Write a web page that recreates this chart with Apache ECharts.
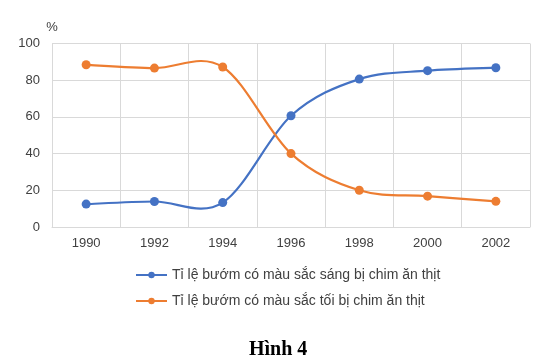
<!DOCTYPE html>
<html><head><meta charset="utf-8">
<script src="https://cdn.jsdelivr.net/npm/echarts@6/dist/echarts.min.js"></script>
<style>html,body{margin:0;padding:0;background:#fff}#c{width:543px;height:363px}</style>
</head><body><div id="c"></div>
<script>
const categories = ['1990','1992','1994','1996','1998','2000','2002'];
const lightSeries = [12.5, 13.9, 13.3, 60.6, 80.6, 85.2, 86.8];
const darkSeries = [88.4, 86.6, 87.2, 40.0, 20.0, 16.8, 14.0];
const yTicks = [0, 20, 40, 60, 80, 100];
const seriesNames = ['Tỉ lệ bướm có màu sắc sáng bị chim ăn thịt', 'Tỉ lệ bướm có màu sắc tối bị chim ăn thịt'];
const colors = ['#4472c4', '#ed7d31'];

const chart = echarts.init(document.getElementById('c'), null, {renderer: 'canvas'});
const font = 'Liberation Sans, Arial, sans-serif';

function curveSeries(values, color) {
  return {
    type: 'custom', silent: true, z: 1,
    data: values.map((v, i) => [i, v]),
    encode: {x: 0, y: 1},
    renderItem: function (params, api) {
      if (params.dataIndex !== 0) return null;
      const pts = values.map((v, i) => api.coord([i, v]));
      let d = 'M' + pts[0][0] + ' ' + pts[0][1];
      for (let i = 0; i < pts.length - 1; i++) {
        const p0 = pts[Math.max(i - 1, 0)], p1 = pts[i], p2 = pts[i + 1], p3 = pts[Math.min(i + 2, pts.length - 1)];
        const c1 = [p1[0] + (p2[0] - p0[0]) / 6, p1[1] + (p2[1] - p0[1]) / 6];
        const c2 = [p2[0] - (p3[0] - p1[0]) / 6, p2[1] - (p3[1] - p1[1]) / 6];
        d += ' C' + c1[0] + ' ' + c1[1] + ' ' + c2[0] + ' ' + c2[1] + ' ' + p2[0] + ' ' + p2[1];
      }
      return {type: 'path', shape: {pathData: d}, style: {stroke: color, fill: 'none', lineWidth: 2.2}};
    }
  };
}

chart.setOption({
  animation: false,
  textStyle: {fontFamily: font},
  grid: {left: 52, right: 13, top: 43.5, bottom: 136, containLabel: false},
  xAxis: {
    type: 'category', data: categories, boundaryGap: true,
    axisLine: {lineStyle: {color: '#d9d9d9', width: 1}},
    axisTick: {show: false},
    axisLabel: {color: '#404040', fontSize: 13, margin: 10, fontFamily: font},
    splitLine: {show: true, lineStyle: {color: '#d9d9d9', width: 1}}
  },
  yAxis: {
    type: 'value', min: yTicks[0], max: yTicks[yTicks.length-1], interval: 20,
    name: '%', nameLocation: 'end', nameGap: 10,
    nameTextStyle: {color: '#404040', fontSize: 13, align: 'center', fontFamily: font},
    axisLine: {show: true, lineStyle: {color: '#d9d9d9'}},
    axisTick: {show: false},
    axisLabel: {color: '#404040', fontSize: 13, margin: 12, fontFamily: font},
    splitLine: {show: true, lineStyle: {color: '#d9d9d9', width: 1}}
  },
  legend: {
    orient: 'vertical', left: 135, top: 268, padding: 0, itemWidth: 31, itemHeight: 8, itemGap: 12,
    textStyle: {color: '#404040', fontSize: 14, fontFamily: font},
    data: seriesNames.map((n, i) => ({name: n, lineStyle: {color: colors[i], width: 2, opacity: 1}, itemStyle: {color: colors[i]}}))
  },
  title: {
    text: 'Hình 4', left: 249, top: 340, padding: 0,
    textStyle: {fontFamily: 'Liberation Serif, Times New Roman, serif', fontWeight: 'bold', fontSize: 20, color: '#000'}
  },
  series: [
    curveSeries(lightSeries, colors[0]),
    curveSeries(darkSeries, colors[1]),
    {name: seriesNames[0], type: 'line', data: lightSeries, symbol: 'circle', symbolSize: 9, z: 3,
     itemStyle: {color: colors[0]}, lineStyle: {color: colors[0], width: 2, opacity: 0}},
    {name: seriesNames[1], type: 'line', data: darkSeries, symbol: 'circle', symbolSize: 9, z: 3,
     itemStyle: {color: colors[1]}, lineStyle: {color: colors[1], width: 2, opacity: 0}}
  ]
});
</script></body></html>
